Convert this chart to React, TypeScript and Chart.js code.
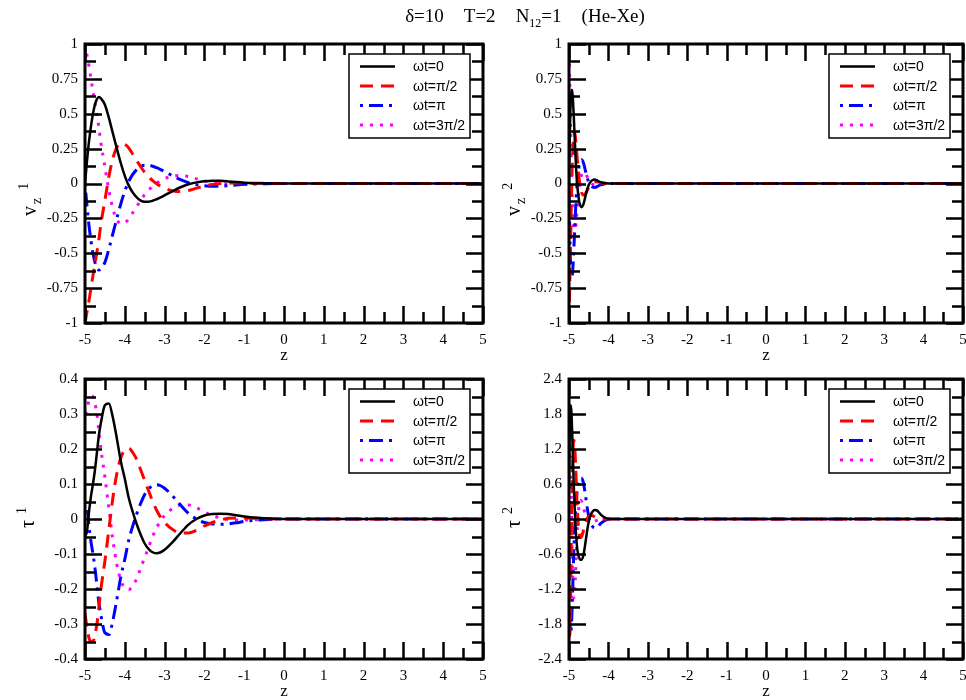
import React, { useEffect, useRef } from "react";
import { Chart, registerables } from "chart.js";
Chart.register(...registerables);

const SERIES_LABELS = ["ωt=0", "ωt=π/2", "ωt=π", "ωt=3π/2"];
const SERIES_COLORS = ["#000000", "#ff0000", "#0000ff", "#ff00ff"];
const SERIES_DASH: number[][] = [[], [13, 8], [3, 6, 14, 6], [3, 7]];
const SERIES_WIDTH = [2.5, 3, 3, 3];

// z grid for gas 1 panels
const zWide = [-5, -4.95, -4.9, -4.85, -4.8, -4.75, -4.7, -4.65, -4.6, -4.5, -4.4, -4.3, -4.2, -4.1, -4.0, -3.9, -3.8, -3.7, -3.6, -3.5, -3.4, -3.3, -3.2, -3.1, -3.0, -2.8, -2.6, -2.4, -2.2, -2.0, -1.8, -1.6, -1.4, -1.2, -1.0, -0.5, 0, 1, 2, 3, 4, 5];

const v1_wt0 = [0, 0.16, 0.3, 0.41, 0.5, 0.565, 0.605, 0.62, 0.61, 0.565, 0.47, 0.36, 0.25, 0.145, 0.055, -0.015, -0.065, -0.1, -0.122, -0.13, -0.13, -0.124, -0.113, -0.1, -0.085, -0.055, -0.027, -0.005, 0.008, 0.016, 0.02, 0.019, 0.015, 0.01, 0.006, 0.001, 0, 0, 0, 0, 0, 0];
const v1_wtHalfPi = [-1, -0.92, -0.84, -0.75, -0.66, -0.575, -0.49, -0.4, -0.29, -0.12, 0.05, 0.18, 0.26, 0.288, 0.28, 0.255, 0.21, 0.165, 0.12, 0.08, 0.048, 0.02, -0.002, -0.02, -0.035, -0.052, -0.058, -0.05, -0.033, -0.018, -0.007, 0, 0.003, 0.004, 0.003, 0.001, 0, 0, 0, 0, 0, 0];
const v1_wtPi = [0, -0.16, -0.3, -0.41, -0.5, -0.565, -0.605, -0.62, -0.61, -0.565, -0.47, -0.36, -0.25, -0.145, -0.055, 0.015, 0.065, 0.1, 0.122, 0.13, 0.13, 0.124, 0.113, 0.1, 0.085, 0.055, 0.027, 0.005, -0.008, -0.016, -0.02, -0.019, -0.015, -0.01, -0.006, -0.001, 0, 0, 0, 0, 0, 0];
const v1_wt3HalfPi = [1, 0.92, 0.84, 0.75, 0.66, 0.575, 0.49, 0.4, 0.29, 0.12, -0.05, -0.18, -0.26, -0.288, -0.28, -0.255, -0.21, -0.165, -0.12, -0.08, -0.048, -0.02, 0.002, 0.02, 0.035, 0.052, 0.058, 0.05, 0.033, 0.018, 0.007, 0, -0.003, -0.004, -0.003, -0.001, 0, 0, 0, 0, 0, 0];

const tau1_wt0 = [-0.05, -0.035, 0.02, 0.065, 0.1, 0.14, 0.19, 0.24, 0.275, 0.325, 0.33, 0.29, 0.23, 0.165, 0.115, 0.06, 0.02, -0.015, -0.045, -0.07, -0.086, -0.095, -0.098, -0.095, -0.088, -0.066, -0.04, -0.016, 0.0, 0.01, 0.014, 0.015, 0.014, 0.011, 0.007, 0.002, 0, 0, 0, 0, 0, 0];
const tau1_wtHalfPi = [-0.27, -0.31, -0.34, -0.35, -0.35, -0.33, -0.3, -0.25, -0.2, -0.12, -0.03, 0.06, 0.13, 0.175, 0.197, 0.202, 0.19, 0.17, 0.14, 0.11, 0.08, 0.05, 0.025, 0.005, -0.01, -0.03, -0.04, -0.04, -0.032, -0.02, -0.01, -0.003, 0.002, 0.003, 0.003, 0.001, 0, 0, 0, 0, 0, 0];
const tau1_wtPi = [0.05, 0.035, -0.02, -0.065, -0.1, -0.14, -0.19, -0.24, -0.275, -0.325, -0.33, -0.29, -0.23, -0.165, -0.115, -0.06, -0.02, 0.015, 0.045, 0.07, 0.086, 0.095, 0.098, 0.095, 0.088, 0.066, 0.04, 0.016, 0.0, -0.01, -0.014, -0.015, -0.014, -0.011, -0.007, -0.002, 0, 0, 0, 0, 0, 0];
const tau1_wt3HalfPi = [0.3, 0.31, 0.34, 0.35, 0.35, 0.33, 0.3, 0.25, 0.2, 0.12, 0.03, -0.06, -0.13, -0.175, -0.197, -0.202, -0.19, -0.17, -0.14, -0.11, -0.08, -0.05, -0.025, -0.005, 0.01, 0.03, 0.04, 0.04, 0.032, 0.02, 0.01, 0.003, -0.002, -0.003, -0.003, -0.001, 0, 0, 0, 0, 0, 0];

// z grid for gas 2 panels
const zNarrow = [-5, -4.98, -4.96, -4.94, -4.92, -4.9, -4.88, -4.86, -4.84, -4.82, -4.8, -4.77, -4.74, -4.71, -4.68, -4.65, -4.62, -4.59, -4.56, -4.53, -4.5, -4.45, -4.4, -4.35, -4.3, -4.25, -4.2, -4.1, -4.0, -3.8, -3.5, -3, -2, -1, 0, 1, 2, 3, 4, 5];

const v2_wt0 = [0, 0.35, 0.58, 0.67, 0.67, 0.6, 0.49, 0.36, 0.23, 0.11, 0.02, -0.07, -0.13, -0.16, -0.17, -0.16, -0.135, -0.1, -0.065, -0.035, -0.01, 0.012, 0.025, 0.028, 0.024, 0.016, 0.01, 0.003, 0, 0, 0, 0, 0, 0, 0, 0, 0, 0, 0, 0];
const v2_wtHalfPi = [-1, -0.72, -0.42, -0.14, 0.1, 0.26, 0.35, 0.37, 0.34, 0.28, 0.21, 0.11, 0.03, -0.03, -0.065, -0.08, -0.082, -0.075, -0.06, -0.045, -0.03, -0.01, 0.005, 0.012, 0.013, 0.01, 0.006, 0.002, 0, 0, 0, 0, 0, 0, 0, 0, 0, 0, 0, 0];
const v2_wtPi = [0, -0.35, -0.58, -0.67, -0.67, -0.6, -0.49, -0.36, -0.23, -0.11, -0.02, 0.07, 0.13, 0.16, 0.17, 0.16, 0.135, 0.1, 0.065, 0.035, 0.01, -0.012, -0.025, -0.028, -0.024, -0.016, -0.01, -0.003, 0, 0, 0, 0, 0, 0, 0, 0, 0, 0, 0, 0];
const v2_wt3HalfPi = [1, 0.72, 0.42, 0.14, -0.1, -0.26, -0.35, -0.37, -0.34, -0.28, -0.21, -0.11, -0.03, 0.03, 0.065, 0.08, 0.082, 0.075, 0.06, 0.045, 0.03, 0.01, -0.005, -0.012, -0.013, -0.01, -0.006, -0.002, 0, 0, 0, 0, 0, 0, 0, 0, 0, 0, 0, 0];

const tau2_wt0 = [0.5, 1.6, 1.95, 1.85, 1.5, 1.05, 0.6, 0.25, -0.05, -0.28, -0.45, -0.6, -0.67, -0.7, -0.7, -0.66, -0.57, -0.44, -0.3, -0.16, -0.05, 0.07, 0.13, 0.155, 0.15, 0.12, 0.08, 0.03, 0.005, 0, 0, 0, 0, 0, 0, 0, 0, 0, 0, 0];
const tau2_wtHalfPi = [-1.2, -2.0, -1.4, -0.3, 0.6, 1.15, 1.35, 1.3, 1.05, 0.7, 0.35, -0.05, -0.25, -0.32, -0.3, -0.24, -0.16, -0.08, -0.02, 0.02, 0.045, 0.06, 0.055, 0.04, 0.025, 0.012, 0.005, 0.001, 0, 0, 0, 0, 0, 0, 0, 0, 0, 0, 0, 0];
const tau2_wtPi = [-0.5, -1.6, -1.95, -1.85, -1.5, -1.05, -0.6, -0.25, 0.05, 0.28, 0.45, 0.6, 0.67, 0.7, 0.7, 0.66, 0.57, 0.44, 0.3, 0.16, 0.05, -0.07, -0.13, -0.155, -0.15, -0.12, -0.08, -0.03, -0.005, 0, 0, 0, 0, 0, 0, 0, 0, 0, 0, 0];
const tau2_wt3HalfPi = [1.2, 2.0, 1.4, 0.3, -0.6, -1.15, -1.35, -1.3, -1.05, -0.7, -0.35, 0.05, 0.25, 0.32, 0.3, 0.24, 0.16, 0.08, 0.02, -0.02, -0.045, -0.06, -0.055, -0.04, -0.025, -0.012, -0.005, -0.001, 0, 0, 0, 0, 0, 0, 0, 0, 0, 0, 0, 0];

// tick labels
const zTicks = [-5, -4, -3, -2, -1, 0, 1, 2, 3, 4, 5];
const vTicks = [-1, -0.75, -0.5, -0.25, 0, 0.25, 0.5, 0.75, 1];
const tau1Ticks = [-0.4, -0.3, -0.2, -0.1, 0, 0.1, 0.2, 0.3, 0.4];
const tau2Ticks = [-2.4, -1.8, -1.2, -0.6, 0, 0.6, 1.2, 1.8, 2.4];

const TITLE_PARTS = ["δ=10", "T=2", "N", "12", "=1", "(He-Xe)"];

type PanelCfg = {
  z: number[];
  series: number[][];
  yTicks: number[];
  yTitle: { main: string; sub?: string; sup: string };
  canvas: { left: number; top: number; width: number; height: number };
  area: { left: number; top: number; right: number; bottom: number };
  yTitlePos: { x: number; y: number };
  xTitleY: number;
};

const fmt = (v: number) => {
  if (Math.abs(v) < 1e-9) return "0";
  return String(Math.round(v * 100) / 100);
};

function decorPlugin(cfg: PanelCfg) {
  return {
    id: "decor",
    afterDraw(chart: any) {
      const ctx: CanvasRenderingContext2D = chart.ctx;
      const a = chart.chartArea;
      const xs = chart.scales.x;
      const ys = chart.scales.y;
      ctx.save();
      ctx.strokeStyle = "#000";
      ctx.lineWidth = 2.5;
      const MAJ = 17, MIN = 11;
      const drawX = (v: number, len: number) => {
        const px = Math.round(xs.getPixelForValue(v)) + 0.5;
        ctx.beginPath();
        ctx.moveTo(px, a.bottom); ctx.lineTo(px, a.bottom - len);
        ctx.moveTo(px, a.top); ctx.lineTo(px, a.top + len);
        ctx.stroke();
      };
      const drawY = (v: number, len: number) => {
        const py = Math.round(ys.getPixelForValue(v)) + 0.5;
        ctx.beginPath();
        ctx.moveTo(a.left, py); ctx.lineTo(a.left + len, py);
        ctx.moveTo(a.right, py); ctx.lineTo(a.right - len, py);
        ctx.stroke();
      };
      zTicks.forEach((v, i) => {
        drawX(v, MAJ);
        if (i < zTicks.length - 1) drawX((v + zTicks[i + 1]) / 2, MIN);
      });
      cfg.yTicks.forEach((v, i) => {
        drawY(v, MAJ);
        if (i < cfg.yTicks.length - 1) drawY((v + cfg.yTicks[i + 1]) / 2, MIN);
      });
      ctx.lineWidth = 3;
      ctx.strokeRect(a.left, a.top, a.right - a.left, a.bottom - a.top);

      // legend
      const bx = a.right - 134, by = a.top + 10, bw = 121, bh = 84;
      ctx.fillStyle = "#fff";
      ctx.fillRect(bx, by, bw, bh);
      ctx.lineWidth = 1.5;
      ctx.strokeRect(bx, by, bw, bh);
      ctx.font = '14px "Liberation Sans", Arial, sans-serif';
      ctx.textBaseline = "middle";
      ctx.textAlign = "left";
      chart.data.datasets.forEach((ds: any, i: number) => {
        const yy = by + 12.5 + i * 19.5;
        ctx.beginPath();
        ctx.strokeStyle = ds.borderColor;
        ctx.lineWidth = ds.borderWidth;
        ctx.setLineDash(ds.borderDash || []);
        ctx.moveTo(bx + 11, yy);
        ctx.lineTo(bx + 46, yy);
        ctx.stroke();
        ctx.setLineDash([]);
        ctx.fillStyle = "#000";
        ctx.fillText(ds.label, bx + 64, yy + 1);
      });

      // x title
      ctx.fillStyle = "#000";
      ctx.font = '17px "Liberation Serif", serif';
      ctx.textAlign = "center";
      ctx.textBaseline = "alphabetic";
      ctx.fillText("z", (a.left + a.right) / 2, cfg.xTitleY);

      // y title (rotated)
      ctx.translate(cfg.yTitlePos.x, cfg.yTitlePos.y);
      ctx.rotate(-Math.PI / 2);
      ctx.textAlign = "left";
      ctx.font = '20px "Liberation Serif", serif';
      ctx.fillText(cfg.yTitle.main, 0, 0);
      let off = ctx.measureText(cfg.yTitle.main).width + 2;
      ctx.font = '14px "Liberation Serif", serif';
      if (cfg.yTitle.sub) {
        ctx.fillText(cfg.yTitle.sub, off, 5);
        off += ctx.measureText(cfg.yTitle.sub).width + 8;
      } else {
        off += 4;
      }
      ctx.fillText(cfg.yTitle.sup, off, -8);
      ctx.restore();
    },
  };
}

function buildChart(canvas: HTMLCanvasElement, cfg: PanelCfg) {
  const yWidth = cfg.area.left;
  const xHeight = cfg.canvas.height - cfg.area.bottom;
  return new Chart(canvas, {
    type: "line",
    data: {
      datasets: cfg.series.map((vals, i) => ({
        label: SERIES_LABELS[i],
        data: cfg.z.map((zz, j) => ({ x: zz, y: vals[j] })),
        borderColor: SERIES_COLORS[i],
        borderWidth: SERIES_WIDTH[i],
        borderDash: SERIES_DASH[i],
        pointRadius: 0,
        cubicInterpolationMode: "monotone" as const,
        fill: false,
      })),
    },
    options: {
      responsive: false,
      animation: false,
      devicePixelRatio: 1,
      layout: {
        padding: {
          left: 0,
          top: cfg.area.top,
          right: cfg.canvas.width - cfg.area.right,
          bottom: 0,
        },
      },
      plugins: { legend: { display: false }, tooltip: { enabled: false } },
      scales: {
        x: {
          type: "linear",
          min: -5,
          max: 5,
          grid: { display: false, drawTicks: false },
          border: { display: false },
          afterBuildTicks: (s: any) => { s.ticks = zTicks.map((v) => ({ value: v })); },
          afterFit: (s: any) => { s.height = xHeight; s.paddingLeft = 0; s.paddingRight = 0; },
          ticks: {
            color: "#000",
            padding: 8,
            maxRotation: 0,
            autoSkip: false,
            font: { family: '"Liberation Serif", serif', size: 15 },
            callback: (v: any) => fmt(Number(v)),
          },
        },
        y: {
          type: "linear",
          min: cfg.yTicks[0],
          max: cfg.yTicks[cfg.yTicks.length - 1],
          grid: { display: false, drawTicks: false },
          border: { display: false },
          afterBuildTicks: (s: any) => { s.ticks = cfg.yTicks.map((v) => ({ value: v })); },
          afterFit: (s: any) => { s.width = yWidth; s.paddingTop = 0; s.paddingBottom = 0; },
          ticks: {
            color: "#000",
            padding: 7,
            autoSkip: false,
            font: { family: '"Liberation Serif", serif', size: 15 },
            callback: (v: any) => fmt(Number(v)),
          },
        },
      },
    },
    plugins: [decorPlugin(cfg)],
  } as any);
}

const PANELS: PanelCfg[] = [
  {
    z: zWide,
    series: [v1_wt0, v1_wtHalfPi, v1_wtPi, v1_wt3HalfPi],
    yTicks: vTicks,
    yTitle: { main: "v", sub: "z", sup: "1" },
    canvas: { left: 0, top: 0, width: 490, height: 370 },
    area: { left: 85, top: 44, right: 483, bottom: 323 },
    yTitlePos: { x: 36, y: 216 },
    xTitleY: 360,
  },
  {
    z: zNarrow,
    series: [v2_wt0, v2_wtHalfPi, v2_wtPi, v2_wt3HalfPi],
    yTicks: vTicks,
    yTitle: { main: "v", sub: "z", sup: "2" },
    canvas: { left: 490, top: 0, width: 476, height: 370 },
    area: { left: 79, top: 44, right: 473, bottom: 323 },
    yTitlePos: { x: 30, y: 216 },
    xTitleY: 360,
  },
  {
    z: zWide,
    series: [tau1_wt0, tau1_wtHalfPi, tau1_wtPi, tau1_wt3HalfPi],
    yTicks: tau1Ticks,
    yTitle: { main: "τ", sup: "1" },
    canvas: { left: 0, top: 370, width: 490, height: 330 },
    area: { left: 85, top: 9, right: 483, bottom: 289 },
    yTitlePos: { x: 34, y: 158 },
    xTitleY: 326,
  },
  {
    z: zNarrow,
    series: [tau2_wt0, tau2_wtHalfPi, tau2_wtPi, tau2_wt3HalfPi],
    yTicks: tau2Ticks,
    yTitle: { main: "τ", sup: "2" },
    canvas: { left: 490, top: 370, width: 476, height: 330 },
    area: { left: 79, top: 9, right: 473, bottom: 289 },
    yTitlePos: { x: 30, y: 158 },
    xTitleY: 326,
  },
];

export default function App() {
  const refs = [useRef<HTMLCanvasElement>(null), useRef<HTMLCanvasElement>(null), useRef<HTMLCanvasElement>(null), useRef<HTMLCanvasElement>(null)];
  useEffect(() => {
    const charts = PANELS.map((p, i) => buildChart(refs[i].current!, p));
    return () => charts.forEach((c) => c.destroy());
  }, []);
  return (
    <div style={{ position: "absolute", left: 0, top: 0, width: 966, height: 700, background: "#fff", overflow: "hidden" }}>
      {PANELS.map((p, i) => (
        <canvas
          key={i}
          ref={refs[i]}
          width={p.canvas.width}
          height={p.canvas.height}
          style={{ position: "absolute", left: p.canvas.left, top: p.canvas.top, width: p.canvas.width, height: p.canvas.height }}
        />
      ))}
      <div
        style={{
          position: "absolute",
          left: 0,
          top: 5,
          width: 1050,
          textAlign: "center",
          fontFamily: '"Liberation Serif", serif',
          fontSize: 19,
          color: "#000",
          whiteSpace: "nowrap",
        }}
      >
        <span>{TITLE_PARTS[0]}</span>
        <span style={{ marginLeft: 20 }}>{TITLE_PARTS[1]}</span>
        <span style={{ marginLeft: 20 }}>{TITLE_PARTS[2]}</span>
        <sub style={{ fontSize: 12 }}>{TITLE_PARTS[3]}</sub>
        <span>{TITLE_PARTS[4]}</span>
        <span style={{ marginLeft: 20 }}>{TITLE_PARTS[5]}</span>
      </div>
    </div>
  );
}
